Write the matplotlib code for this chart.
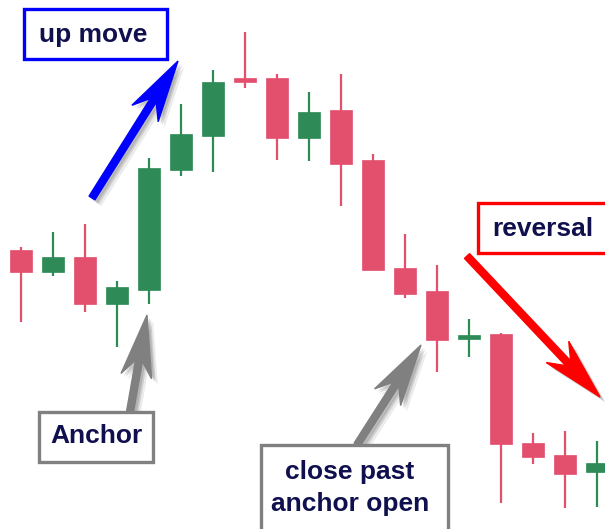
import matplotlib
matplotlib.use("Agg")
import matplotlib.pyplot as plt
import matplotlib.patheffects as pe
from matplotlib.patches import FancyArrow, Rectangle
import numpy as np

# price levels of each candle (left to right)
opens  = [279, 257, 272, 225, 239, 359, 393, 451, 451, 391, 419, 369, 261, 238, 190, 195, 86, 74, 57]
closes = [257, 272, 225, 242, 361, 395, 447, 447, 391, 417, 365, 259, 235, 189, 194, 85, 72, 55, 66]
highs  = [282, 297, 305, 248, 371, 425, 459, 497, 455, 437, 455, 375, 295, 264, 210, 196, 96, 98, 88]
lows   = [207, 253, 217, 182, 225, 353, 357, 441, 369, 368, 323, 259, 231, 157, 172, 26, 65, 21, 22]

# callout labels
labels = ["up move", "reversal", "Anchor", "close past\nanchor open"]

UP = '#2e8b57'
DOWN = '#e2506e'
INK = '#10104e'

fig = plt.figure(figsize=(6.05, 5.29), dpi=100)
fig.patch.set_facecolor('white')

# candle axes
ax = fig.add_axes([0, 0, 1, 1])
ax.set_xlim(-21 / 32, 584 / 32)
ax.set_ylim(0, 529)
ax.axis('off')

x = np.arange(len(opens))
o = np.array(opens)
c = np.array(closes)
colors = [UP if cc >= oo else DOWN for oo, cc in zip(o, c)]

ax.vlines(x, lows, highs, colors=colors, linewidth=1.6, zorder=1)
ax.bar(x, c - o, bottom=o, width=0.69, color=colors, edgecolor=colors,
       linewidth=0.5, zorder=2)

# overlay in pixel units for callouts
ov = fig.add_axes([0, 0, 1, 1])
ov.set_xlim(0, 605)
ov.set_ylim(529, 0)
ov.axis('off')
ov.patch.set_alpha(0)


def shadow():
    return [pe.SimplePatchShadow(offset=(2, -2), shadow_rgbFace='k', alpha=0.12),
            pe.SimplePatchShadow(offset=(3, -3), shadow_rgbFace='k', alpha=0.12),
            pe.SimplePatchShadow(offset=(4.5, -4.5), shadow_rgbFace='k', alpha=0.08),
            pe.Normal()]


def arrow(tail, tip, color):
    dx = tip[0] - tail[0]
    dy = tip[1] - tail[1]
    a = FancyArrow(tail[0], tail[1], dx, dy, width=7, head_width=31,
                   head_length=62, length_includes_head=True, overhang=0.25,
                   color=color, zorder=5)
    a.set_path_effects(shadow())
    ov.add_patch(a)


def callout(x0, y0, w, h, edge):
    ov.add_patch(Rectangle((x0, y0), w, h, facecolor='white', edgecolor=edge,
                           linewidth=2.4, zorder=6))


arrow((92, 198), (178, 61), '#0000ff')
arrow((467, 256), (600, 397), '#ff0000')
arrow((130, 412), (147, 315), '#808080')
arrow((357, 445), (421, 345), '#808080')

callout(24, 9, 143, 50, '#0000ff')
callout(478, 203, 140, 50, '#ff0000')
callout(39, 412, 114, 50, '#808080')
callout(261, 445, 187, 100, '#808080')

font = dict(family='Liberation Sans', fontweight='bold', fontsize=19,
            color=INK, ha='center', va='center', zorder=7)
ov.text(93, 35, labels[0], **font)
ov.text(543, 229, labels[1], **font)
ov.text(96, 436, labels[2], **font)
ov.text(350, 488, labels[3], linespacing=1.4, **font)

fig.savefig('out.png', dpi=100)
